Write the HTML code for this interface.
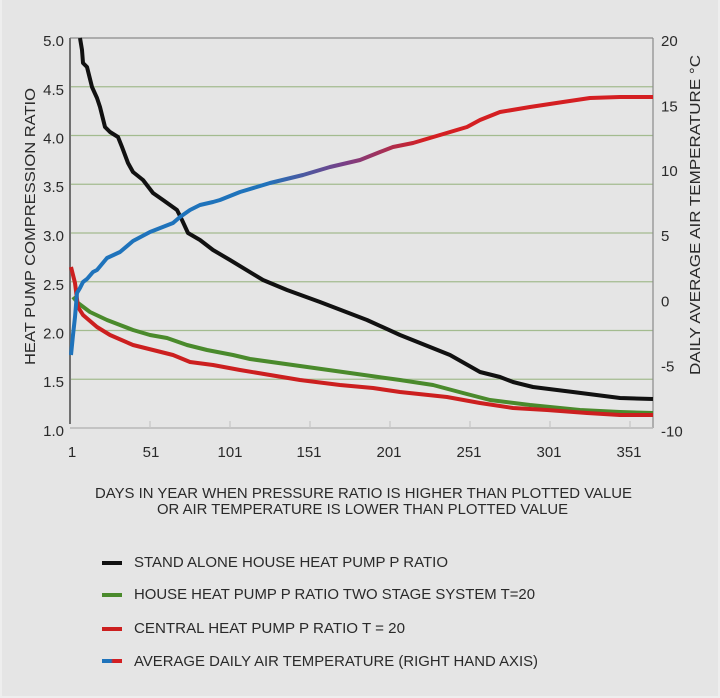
<!DOCTYPE html>
<html><head><meta charset="utf-8"><style>
html,body{margin:0;padding:0;background:#e5e5e5;}
svg{display:block;}
text{font-family:"Liberation Sans",Arial,sans-serif;fill:#2a2a2a;}
</style></head><body>
<svg width="720" height="698" viewBox="0 0 720 698" xmlns="http://www.w3.org/2000/svg">
<rect x="0" y="0" width="720" height="698" fill="#eeeeee"/>
<rect x="2" y="0" width="716" height="696" fill="#e5e5e5"/>
<defs>
<linearGradient id="tg" gradientUnits="userSpaceOnUse" x1="265" y1="0" x2="425" y2="0">
<stop offset="0" stop-color="#1f73bb"/><stop offset="0.5" stop-color="#7a3f86"/><stop offset="1" stop-color="#d41f22"/>
</linearGradient>
<linearGradient id="lg" x1="0" y1="0" x2="1" y2="0">
<stop offset="0" stop-color="#1f73bb"/><stop offset="0.45" stop-color="#1f73bb"/><stop offset="0.55" stop-color="#d41f22"/><stop offset="1" stop-color="#d41f22"/>
</linearGradient>
</defs>
<!-- grid -->
<g stroke="#a3bb8f" stroke-width="1.3">
<line x1="70" y1="86.75" x2="653" y2="86.75"/>
<line x1="70" y1="135.5" x2="653" y2="135.5"/>
<line x1="70" y1="184.25" x2="653" y2="184.25"/>
<line x1="70" y1="233" x2="653" y2="233"/>
<line x1="70" y1="281.75" x2="653" y2="281.75"/>
<line x1="70" y1="330.5" x2="653" y2="330.5"/>
<line x1="70" y1="379.25" x2="653" y2="379.25"/>
</g>
<line x1="70" y1="38" x2="653" y2="38" stroke="#8a8a8a" stroke-width="1.2"/>
<line x1="653" y1="38" x2="653" y2="428" stroke="#8a8a8a" stroke-width="1.2"/>
<line x1="70" y1="428" x2="653" y2="428" stroke="#b8b8b8" stroke-width="1.5"/>
<g stroke="#c6c6c6" stroke-width="1.2">
<line x1="150" y1="421" x2="150" y2="428"/><line x1="230" y1="421" x2="230" y2="428"/>
<line x1="310" y1="421" x2="310" y2="428"/><line x1="390" y1="421" x2="390" y2="428"/>
<line x1="470" y1="421" x2="470" y2="428"/><line x1="550" y1="421" x2="550" y2="428"/>
<line x1="630" y1="421" x2="630" y2="428"/>
</g>
<line x1="70" y1="38" x2="70" y2="424" stroke="#707070" stroke-width="2"/>
<!-- series -->
<g fill="none" stroke-width="4" stroke-linejoin="round" stroke-linecap="butt">
<polyline stroke="#111111" points="80,38 82,50 83,63 87,67 92,87 97,98 100,107 105,127 110,132 118,137 122,147 128,163 133,172 143,180 153,193 163,200 177,210 182,220 188,233 200,240 213,250 230,260 263,280 287,290 320,302 367,320 400,335 420,343 450,355 480,372 500,377 513,382 533,387 573,392 620,398 653,399"/>
<polyline stroke="#4a8a2c" points="73,297 78,303 90,312 107,320 120,325 133,330 150,335 167,338 187,345 207,350 233,355 250,359 300,366 350,373 400,380 433,385 463,393 490,400 530,405 580,410 620,412 653,413"/>
<polyline stroke="#cc1f1f" points="71,267 75,283 78,307 83,315 97,327 110,335 133,345 153,350 173,355 190,362 213,365 240,370 300,380 340,385 373,388 400,392 447,397 480,403 513,408 547,410 587,413 620,415 653,415"/>
<polyline stroke="url(#tg)" points="71,355 73,335 75,317 77,293 80,288 83,282 87,279 93,272 97,270 107,258 120,252 133,241 150,232 173,223 180,217 190,210 200,205 213,202 220,200 240,192 270,183 303,175 330,167 360,160 380,152 393,147 413,143 440,135 467,127 480,120 500,112 530,107 563,102 590,98 620,97 653,97"/>
</g>
<!-- left tick labels -->
<g font-size="15" text-anchor="end">
<text x="64" y="46">5.0</text><text x="64" y="95">4.5</text><text x="64" y="143.5">4.0</text>
<text x="64" y="192">3.5</text><text x="64" y="241">3.0</text><text x="64" y="290">2.5</text>
<text x="64" y="338.5">2.0</text><text x="64" y="387">1.5</text><text x="64" y="436">1.0</text>
</g>
<!-- right tick labels -->
<g font-size="15">
<text x="661" y="46">20</text><text x="661" y="111.5">15</text><text x="661" y="176">10</text>
<text x="661" y="241">5</text><text x="661" y="306.5">0</text><text x="661" y="371.5">-5</text>
<text x="661" y="436.5">-10</text>
</g>
<!-- x tick labels -->
<g font-size="15" text-anchor="middle">
<text x="72" y="457">1</text><text x="151" y="457">51</text><text x="230" y="457">101</text>
<text x="309" y="457">151</text><text x="389" y="457">201</text><text x="469" y="457">251</text>
<text x="549" y="457">301</text><text x="629" y="457">351</text>
</g>
<!-- axis titles -->
<text font-size="15" transform="translate(35,365) rotate(-90)" textLength="277" lengthAdjust="spacingAndGlyphs">HEAT PUMP COMPRESSION RATIO</text>
<text font-size="15" transform="translate(700,375) rotate(-90)" textLength="320" lengthAdjust="spacingAndGlyphs">DAILY AVERAGE AIR TEMPERATURE °C</text>
<text font-size="15" x="95" y="498" textLength="537" lengthAdjust="spacingAndGlyphs">DAYS IN YEAR WHEN PRESSURE RATIO IS HIGHER THAN PLOTTED VALUE</text>
<text font-size="15" x="157" y="514" textLength="411" lengthAdjust="spacingAndGlyphs">OR AIR TEMPERATURE IS LOWER THAN PLOTTED VALUE</text>
<!-- legend -->
<g stroke-width="4">
<line x1="102" y1="563" x2="122" y2="563" stroke="#111111"/>
<line x1="102" y1="595" x2="122" y2="595" stroke="#4a8a2c"/>
<line x1="102" y1="629" x2="122" y2="629" stroke="#cc1f1f"/>
<rect x="102" y="659" width="20" height="4" fill="url(#lg)" stroke="none"/>
</g>
<g font-size="15">
<text x="134" y="567" textLength="314" lengthAdjust="spacingAndGlyphs">STAND ALONE HOUSE HEAT PUMP P RATIO</text>
<text x="134" y="599" textLength="401" lengthAdjust="spacingAndGlyphs">HOUSE HEAT PUMP P RATIO TWO STAGE SYSTEM T=20</text>
<text x="134" y="633" textLength="271" lengthAdjust="spacingAndGlyphs">CENTRAL HEAT PUMP P RATIO T = 20</text>
<text x="134" y="666" textLength="404" lengthAdjust="spacingAndGlyphs">AVERAGE DAILY AIR TEMPERATURE (RIGHT HAND AXIS)</text>
</g>
</svg>
</body></html>
